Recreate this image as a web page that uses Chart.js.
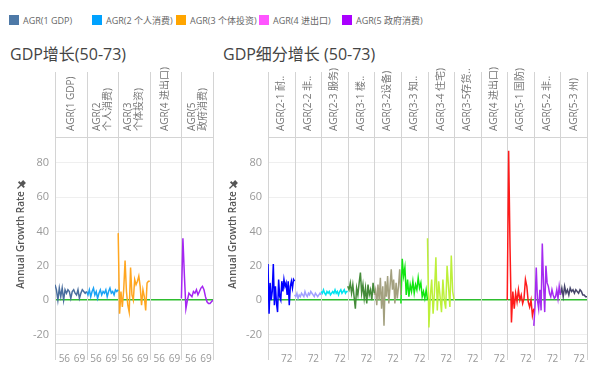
<!DOCTYPE html>
<html>
<head>
<meta charset="utf-8">
<script src="https://cdn.jsdelivr.net/npm/chart.js@4.4.0/dist/chart.umd.min.js"></script>
<style>
  body { margin: 0; width: 600px; height: 371px; background: #fff; overflow: hidden; position: relative;
         font-family: "Open Sans", "Noto Sans CJK SC", sans-serif; }
  .lg { position: absolute; top: 15px; font-size: 9px; color: #666; white-space: nowrap; line-height: 11px; }
  .lg i { display: inline-block; width: 10px; height: 10px; vertical-align: top; margin-right: 4px; }
  .ttl { position: absolute; top: 41px; font-size: 16px; color: #444; white-space: nowrap; }
  .box { position: absolute; top: 64px; height: 307px; }
</style>
</head>
<body>
<div id="legend"></div>
<div class="ttl" style="left:10px">GDP增长(50-73)</div>
<div class="ttl" style="left:223px">GDP细分增长 (50-73)</div>
<div class="box" style="left:0;width:222px"><canvas id="c1"></canvas></div>
<div class="box" style="left:222px;width:378px"><canvas id="c2"></canvas></div>
<script>
// legend
const legendNames = ['AGR(1 GDP)', 'AGR(2 个人消费)', 'AGR(3 个体投资)', 'AGR(4 进出口)', 'AGR(5 政府消费)'];
const legendColors = ['#4e79a7', '#00a2ff', '#ffa500', '#ff55ff', '#aa00ff'];

const yTicks = [-20, 0, 20, 40, 60, 80];

// left panel: GDP growth
const leftHeaders = [['AGR(1 GDP)'], ['AGR(2', '个人消费)'], ['AGR(3', '个体投资)'], ['AGR(4 进出口)'], ['AGR(5', '政府消费)']];
const leftColors = ['#4a6e9e', '#1aa3f5', '#ffa620', '#ff55ff', '#a526f2'];
const leftYears = [1948, 1975];
const leftTickYears = [1956, 1969];
const agr1 = [9, 6, 0, 7, 2, 7, 0, 6, 4, 6, 5, 1, 5, 6, 4, 3, 6, 1, 4, 6, 5, 4, 5];
const agr2 = [5, 3, 6, 2, 5, 7, 3, 5, 1, 4, 6, 3, 5, 4, 6, 2, 5, 7, 4, 5, 3, 6, 5, 6];
const agr3 = [39, -8, 5, -4, 6, 23, 5, -3, -7, 19, 3, 0, 12, 9, 11, 14, 8, -3, 6, 2, -6, 10, 11, 11];
const agr4 = [];
const agr5 = [1, 36, 14, -5, 0, 4, 3, 2, 5, 4, 6, 3, 5, 7, 8, 6, 2, -1, -2, -2, -1, 0];

// right panel: GDP components
const rightHeaders = [['AGR(2-1 耐..'], ['AGR(2-2 非..'], ['AGR(2-3 服务)'], ['AGR(3-1 楼..'], ['AGR(3-2设备)'], ['AGR(3-3 知..'],
                      ['AGR(3-4 住宅)'], ['AGR(3-5存货..'], ['AGR(4 进出口)'], ['AGR(5-1 国防)'], ['AGR(5-2 非..'], ['AGR(5-3 州)']];
const rightColors = ['#0000ff', '#a0a0ff', '#00e4f0', '#458b3a', '#a3a07f', '#11e611', '#bdf03a', '#888888', '#ff55ff', '#ff1a1a', '#a52bf0', '#47476b'];
const rightYears = [1948, 1982];
const rightTickYears = [1972];
const r21 = [21, -8, 10, 0, 5, 21, -3, 8, -2, -7, 12, 2, 0, 11, 5, 12, 8, 10, 3, 11, -3, 8, 11, 7, 12, 11];
const r22 = [3, 2, 4, 1, 3, 2, 4, 3, 2, 5, 3, 2, 4, 3, 5, 4, 3, 2, 4, 3, 2, 3, 4, 3];
const r23 = [5, 4, 6, 4, 3, 5, 4, 5, 3, 4, 5, 4, 6, 4, 5, 3, 5, 6, 4, 5, 6, 4, 5, 5];
const r31 = [8, 6, 10, 4, 9, 2, -5, 7, 3, 10, 16, 4, 9, 1, 7, -2, 9, 3, 6, 0, 10, 4];
const r32 = [3, 6, -3, 9, 0, 13, -5, 8, -15, 11, 2, 14, -2, 8, 18, 6, 12, -2, 10, 1, 8, 18, 3];
const r33 = [-2, 24, 14, 19, 3, 12, 2, 9, 5, 11, 4, 9, 6, 13, 7, 10, 2, 5, 1, 6, 0];
const r34 = [36, -16, 2, 12, -8, 5, 25, -6, 11, 2, -7, 12, 0, -5, 20, 8, -4, 26, 5, 0];
const r35 = [];
const r4 = [];
const r51 = [0, 87, 30, -13, 5, -5, 4, -1, 6, 0, 3, -2, 1, 12, 8, -1, -4, 0, -9, -5];
const r52 = [-15, -3, 19, 0, -5, 6, -6, 33, 10, -7, 20, 10, 8, 4, 2, 6, 3, 1, 2, 6, 1, 8, 3];
const r53 = [3, 7, 2, 8, 4, 6, 3, 7, 5, 6, 4, 6, 5, 4, 6, 5, 3, 3, 2, 2];

const FONT = '"Open Sans", "Noto Sans CJK SC", sans-serif';
Chart.defaults.font.family = FONT;

// html legend
const legendX = [9, 92, 176, 259, 342];
document.getElementById('legend').innerHTML = legendNames.map((n, i) =>
  `<div class="lg" style="left:${legendX[i]}px"><i style="background:${legendColors[i]}"></i>${n}</div>`).join('');

function drawPin(ctx, x, y) {
  ctx.save();
  ctx.translate(x, y);
  ctx.rotate(Math.PI / 4);
  ctx.fillStyle = '#555';
  ctx.fillRect(-2, -5, 4, 4);
  ctx.fillRect(-4, -1.5, 8, 1.8);
  ctx.fillRect(-0.6, 0, 1.2, 5);
  ctx.restore();
}

// pane separators, header labels, pin
const panesPlugin = {
  id: 'panes',
  beforeDatasetsDraw(chart, args, opts) {
    const {ctx, chartArea: a, scales: {x}} = chart;
    ctx.save();
    ctx.strokeStyle = '#d4d4d4';
    ctx.lineWidth = 1;
    ctx.beginPath();
    for (let p = 0; p <= opts.count; p++) {
      const px = Math.round(x.getPixelForValue(p * opts.span)) + 0.5;
      ctx.moveTo(px, 8);
      ctx.lineTo(px, a.bottom + 17);
    }
    ctx.moveTo(a.left, Math.round(a.top) + 0.5);
    ctx.lineTo(a.right + 1, Math.round(a.top) + 0.5);
    ctx.moveTo(a.left, Math.round(a.bottom) + 0.5);
    ctx.lineTo(a.right + 1, Math.round(a.bottom) + 0.5);
    ctx.stroke();
    ctx.restore();
  },
  afterDraw(chart, args, opts) {
    const {ctx, chartArea: a, scales: {x}} = chart;
    ctx.save();
    ctx.fillStyle = '#777';
    ctx.font = '10px ' + FONT;
    ctx.textAlign = 'left';
    ctx.textBaseline = 'middle';
    opts.headers.forEach((lines, p) => {
      const cx = x.getPixelForValue((p + 0.5) * opts.span);
      lines.forEach((t, i) => {
        const off = (i - (lines.length - 1) / 2) * 11;
        ctx.save();
        ctx.translate(cx + off, a.top - 6);
        ctx.rotate(-Math.PI / 2);
        ctx.fillText(t, 0, 0);
        ctx.restore();
      });
    });
    ctx.restore();
    drawPin(ctx, opts.pinX, (a.top + a.bottom) / 2 - 55);
  }
};

function makeSets(series, colors, years) {
  const span = years[1] - years[0];
  return series.map((vals, p) => ({
    data: vals.map((v, i) => ({x: p * span + i * span / (vals.length - 1), y: v})),
    borderColor: colors[p],
    borderWidth: 1.5,
    pointRadius: 0,
    fill: false,
    tension: 0
  }));
}

function makeChart(id, series, colors, headers, years, tickYears, yWidth, padRight, titlePad, pinX) {
  const span = years[1] - years[0];
  const count = headers.length;
  return new Chart(document.getElementById(id), {
    type: 'line',
    data: { datasets: makeSets(series, colors, years) },
    plugins: [panesPlugin],
    options: {
      responsive: true,
      maintainAspectRatio: false,
      animation: false,
      layout: { padding: { left: 0, top: 73, right: padRight, bottom: 8 } },
      plugins: {
        legend: { display: false },
        tooltip: { enabled: false },
        panes: { count: count, span: span, headers: headers, pinX: pinX }
      },
      scales: {
        x: {
          type: 'linear',
          min: 0,
          max: count * span,
          afterBuildTicks: s => {
            s.ticks = [];
            for (let p = 0; p < count; p++) {
              tickYears.forEach(t => s.ticks.push({ value: p * span + t - years[0] }));
            }
          },
          afterFit: s => { s.height = 20; },
          grid: { display: false },
          border: { display: false },
          ticks: {
            autoSkip: false,
            maxRotation: 0,
            padding: 2,
            color: '#999',
            font: { size: 10 },
            callback: v => String((Math.round(v % span) + years[0]) % 100)
          }
        },
        y: {
          min: -25,
          max: 95,
          afterBuildTicks: s => { s.ticks = yTicks.map(v => ({ value: v })); },
          afterFit: s => { s.width = yWidth; },
          grid: {
            drawTicks: false,
            color: c => (c.tick && c.tick.value === 0) ? '#2ebd2e' : '#efefef',
            lineWidth: c => (c.tick && c.tick.value === 0) ? 1.5 : 1
          },
          border: { display: false },
          ticks: { color: '#999', font: { size: 11 }, padding: 6 },
          title: {
            display: true,
            text: 'Annual Growth Rate',
            color: '#555',
            font: { size: 10, weight: '600' },
            padding: { top: titlePad, bottom: 0 }
          }
        }
      }
    }
  });
}

makeChart('c1', [agr1, agr2, agr3, agr4, agr5], leftColors, leftHeaders, leftYears, leftTickYears, 55, 9, 15, 21);
makeChart('c2', [r21, r22, r23, r31, r32, r33, r34, r35, r4, r51, r52, r53], rightColors, rightHeaders, rightYears, rightTickYears, 46, 13, 5, 11);
</script>
</body>
</html>
